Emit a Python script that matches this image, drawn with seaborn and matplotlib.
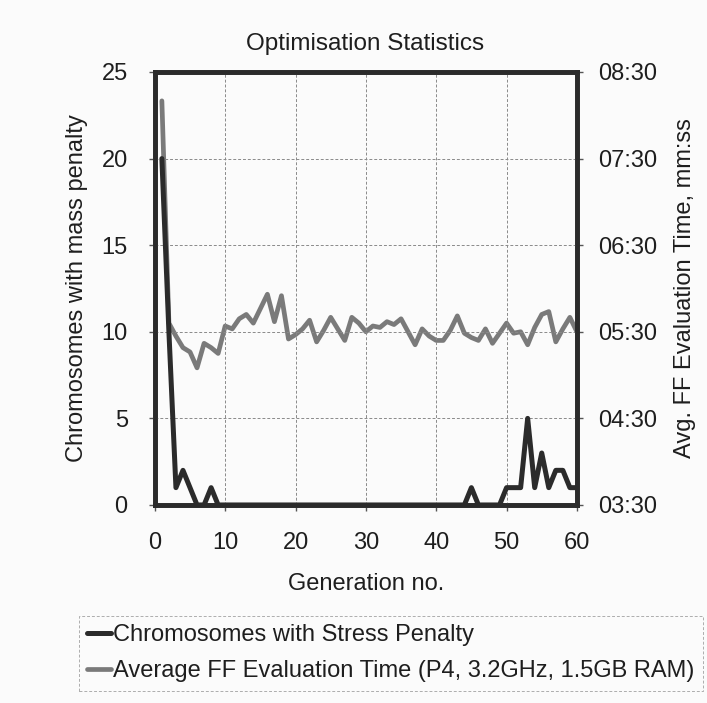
import numpy as np
import pandas as pd
import matplotlib
matplotlib.use("Agg")
import matplotlib.pyplot as plt
import seaborn as sns
from matplotlib.ticker import FuncFormatter
from matplotlib.lines import Line2D

# Generation number (1..60)
generation = list(range(1, 61))

# Chromosomes with stress penalty (left axis)
stress_penalty = [20, 10, 1, 2, 1, 0, 0, 1, 0, 0,
                  0, 0, 0, 0, 0, 0, 0, 0, 0, 0,
                  0, 0, 0, 0, 0, 0, 0, 0, 0, 0,
                  0, 0, 0, 0, 0, 0, 0, 0, 0, 0,
                  0, 0, 0, 0, 1, 0, 0, 0, 0, 1,
                  1, 1, 5, 1, 3, 1, 2, 2, 1, 1]

# Average FF evaluation time in seconds (right axis, shown as mm:ss)
eval_time_s = [490, 336, 327, 319, 316, 305, 322, 319, 315, 334,
               332, 339, 342, 336, 346, 356, 337, 355, 325, 328,
               332, 338, 323, 331, 340, 332, 324, 340, 336, 330,
               334, 333, 337, 335, 339, 330, 321, 332, 327, 324,
               324, 331, 341, 329, 326, 324, 332, 322, 329, 336,
               329, 330, 321, 333, 342, 344, 323, 332, 340, 330]

left_ticks = [0, 5, 10, 15, 20, 25]
right_ticks = [210, 270, 330, 390, 450, 510]
x_ticks = [0, 10, 20, 30, 40, 50, 60]

label_stress = "Chromosomes with Stress Penalty"
label_time = "Average FF Evaluation Time (P4, 3.2GHz, 1.5GB RAM)"

sns.set_theme(style="white")
plt.rcParams['font.family'] = ['Liberation Sans', 'DejaVu Sans']

dark = '#2b2b2b'
grey = '#7a7a7a'
txt = '#1e1e1e'
fs = 17

fig = plt.figure(figsize=(7.07, 7.03), dpi=100, facecolor='#fbfbfb')
ax = fig.add_axes([0.219, 0.2817, 0.597, 0.6159])
ax2 = ax.twinx()

# Avg eval time on the right axis
sns.lineplot(x=generation, y=eval_time_s, ax=ax2, color=grey, linewidth=3.4)
# Stress penalty on the left axis, drawn above
sns.lineplot(x=generation, y=stress_penalty, ax=ax, color=dark, linewidth=3.6)

ax.set_zorder(ax2.get_zorder() + 1)
ax.patch.set_visible(False)
ax2.patch.set_facecolor('white')

ax.set_xlim(0, 60)
ax.set_ylim(0, 25)
ax2.set_ylim(210, 510)
ax.set_xticks(x_ticks)
ax.set_yticks(left_ticks)
ax2.set_yticks(right_ticks)
ax2.yaxis.set_major_formatter(FuncFormatter(lambda v, p: f"{int(v) // 60:02d}:{int(v) % 60:02d}"))

ax.grid(True, which='major', linestyle=(0, (3, 2)), linewidth=0.7, color='#8a8a8a')
ax2.grid(False)

for a in (ax, ax2):
    for s in a.spines.values():
        s.set_linewidth(3.4)
        s.set_color(dark)

ax.tick_params(axis='both', which='major', direction='out', length=4.5, width=1,
               color='#555555', labelsize=fs, labelcolor=txt, pad=15)
ax.tick_params(axis='y', left=True)
ax.tick_params(axis='x', bottom=True)
ax2.tick_params(axis='y', direction='out', length=4.5, width=1, color='#555555',
                labelsize=fs, labelcolor=txt, pad=11, right=True)

ax.set_xlabel('Generation no.', fontsize=fs, color=txt, labelpad=14)
ax.set_ylabel('Chromosomes with mass penalty', fontsize=fs, color=txt, labelpad=10)
ax2.set_ylabel('Avg. FF Evaluation Time, mm:ss', fontsize=fs, color=txt, labelpad=12)

fig.text(0.517, 0.938, 'Optimisation Statistics', ha='center', va='center',
         fontsize=17.5, color=txt)

handles = [Line2D([], [], color=dark, linewidth=3.6),
           Line2D([], [], color=grey, linewidth=3.4)]
leg = fig.legend(handles, [label_stress, label_time], loc='upper left',
                 bbox_to_anchor=(0.112, 0.124), fontsize=fs, frameon=True,
                 fancybox=False, handlelength=1.0, handletextpad=0.1,
                 labelspacing=0.6, borderpad=0.35, borderaxespad=0)
frame = leg.get_frame()
frame.set_linestyle((0, (3, 2)))
frame.set_edgecolor('#999999')
frame.set_linewidth(0.7)
frame.set_facecolor('#fbfbfb')
for t in leg.get_texts():
    t.set_color(txt)

fig.savefig('out.png', dpi=100, facecolor=fig.get_facecolor())
